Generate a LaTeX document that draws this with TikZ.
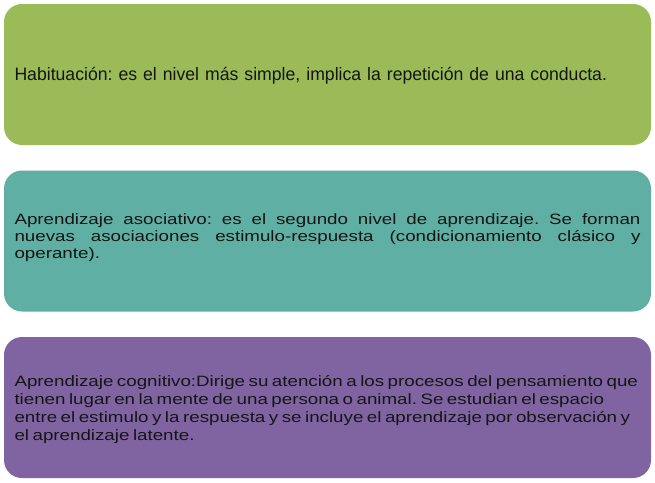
\documentclass[tikz,border=0pt]{standalone}
\usepackage{fontspec}
\setmainfont{Liberation Sans}
\newfontfamily\fontA[FakeStretch=0.98]{Liberation Sans}
\newfontfamily\fontB[FakeStretch=1.25]{Liberation Sans}
\definecolor{cgreen}{HTML}{9BBB59}
\definecolor{cteal}{HTML}{5FAFA4}
\definecolor{cpurple}{HTML}{8064A2}
\definecolor{ctext}{HTML}{151515}
\begin{document}
\frenchspacing
\begin{tikzpicture}[x=1pt,y=-1pt,
  boxstyle/.style={rounded corners=18pt, minimum width=647pt, minimum height=141pt,
    inner sep=0pt},
  textstyle/.style={inner sep=0pt, text width=626pt, text=ctext},
]
\fill[white] (0,0) rectangle (655,482);
\useasboundingbox (0,0) rectangle (655,482);
\node[boxstyle, fill=cgreen] (b1) at (327.5,74.5) {};
\node[boxstyle, fill=cteal] (b2) at (327.5,241) {};
\node[boxstyle, fill=cpurple] (b3) at (327.5,407.5) {};
\node[textstyle, align=left, font=\fontA\fontsize{18}{18}\selectfont]
  (t1) at ([yshift=-1.5pt]b1.center)
  {Habituación: es el nivel más simple, implica la repetición de una conducta.};
\node[textstyle, align=justify, font=\fontB\fontsize{15}{17}\selectfont]
  (t2) at ([yshift=3pt]b2.center)
  {Aprendizaje asociativo: es el segundo nivel de aprendizaje. Se forman\linebreak
   nuevas asociaciones estimulo-respuesta (condicionamiento clásico y\linebreak
   operante).};
\node[textstyle, align=left, font=\fontB\fontsize{15}{18}\selectfont]
  (t3) at ([yshift=-2.5pt]b3.center)
  {\spaceskip=3.5pt plus 1pt minus 1pt
   Aprendizaje cognitivo:Dirige su atención a los procesos del pensamiento que\\
   tienen lugar en la mente de una persona o animal. Se estudian el espacio\\
   entre el estimulo y la respuesta y se incluye el aprendizaje por observación y\\
   el aprendizaje latente.};
\end{tikzpicture}
\end{document}
